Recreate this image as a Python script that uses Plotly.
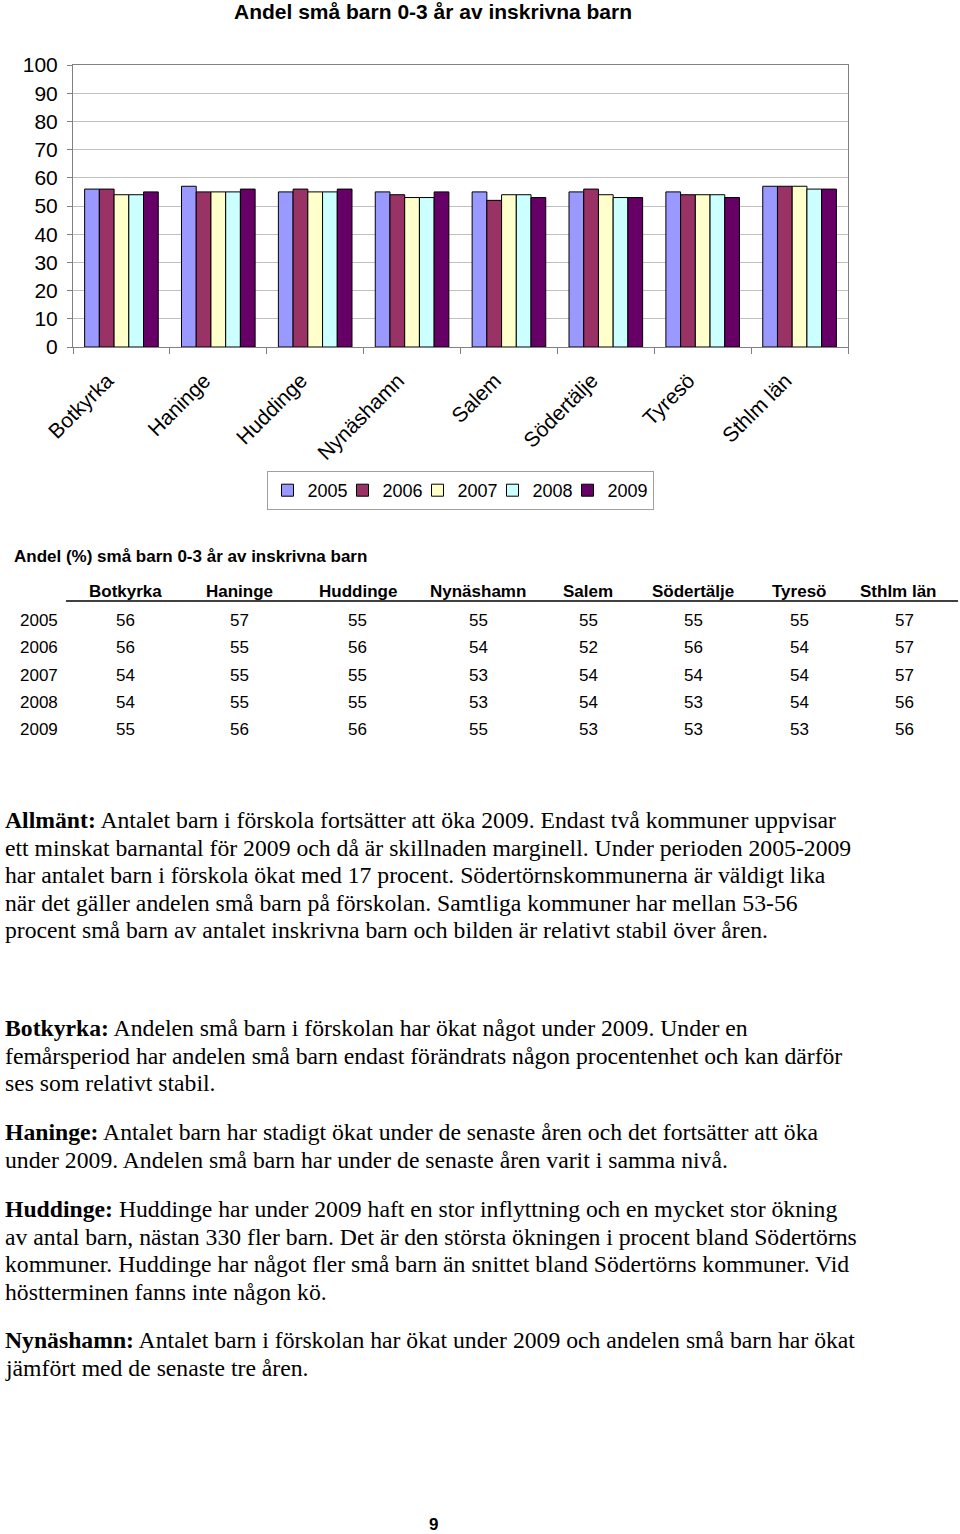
import plotly.graph_objects as go

W, H = 960, 1534

categories = ["Botkyrka", "Haninge", "Huddinge", "Nynäshamn", "Salem", "Södertälje", "Tyresö", "Sthlm län"]
years = ["2005", "2006", "2007", "2008", "2009"]
v2005 = [56, 57, 55, 55, 55, 55, 55, 57]
v2006 = [56, 55, 56, 54, 52, 56, 54, 57]
v2007 = [54, 55, 55, 53, 54, 54, 54, 57]
v2008 = [54, 55, 55, 53, 54, 53, 54, 56]
v2009 = [55, 56, 56, 55, 53, 53, 53, 56]
series = [v2005, v2006, v2007, v2008, v2009]
colors = ["#9999FF", "#993366", "#FFFFCC", "#CCFFFF", "#660066"]

chart_title = "Andel små barn 0-3 år av inskrivna barn"
table_title = "Andel (%) små barn 0-3 år av inskrivna barn"

paragraphs = [
    ("Allmänt:", [
        " Antalet barn i förskola fortsätter att öka 2009. Endast två kommuner uppvisar",
        "ett minskat barnantal för 2009 och då är skillnaden marginell. Under perioden 2005-2009",
        "har antalet barn i förskola ökat med 17 procent. Södertörnskommunerna är väldigt lika",
        "när det gäller andelen små barn på förskolan. Samtliga kommuner har mellan 53-56",
        "procent små barn av antalet inskrivna barn och bilden är relativt stabil över åren.",
    ], 820),
    ("Botkyrka:", [
        " Andelen små barn i förskolan har ökat något under 2009. Under en",
        "femårsperiod har andelen små barn endast förändrats någon procentenhet och kan därför",
        "ses som relativt stabil.",
    ], 1028),
    ("Haninge:", [
        " Antalet barn har stadigt ökat under de senaste åren och det fortsätter att öka",
        "under 2009. Andelen små barn har under de senaste åren varit i samma nivå.",
    ], 1132),
    ("Huddinge:", [
        " Huddinge har under 2009 haft en stor inflyttning och en mycket stor ökning",
        "av antal barn, nästan 330 fler barn. Det är den största ökningen i procent bland Södertörns",
        "kommuner. Huddinge har något fler små barn än snittet bland Södertörns kommuner. Vid",
        "höstterminen fanns inte någon kö.",
    ], 1209),
    ("Nynäshamn:", [
        " Antalet barn i förskolan har ökat under 2009 och andelen små barn har ökat",
        "jämfört med de senaste tre åren.",
    ], 1340),
]
page_number = "9"


def px(x):
    return x / W


def py(y):
    return 1 - y / H


SANS = "Liberation Sans, Arial, sans-serif"
SERIF = "Liberation Serif, Times New Roman, serif"

fig = go.Figure()
for k, (yr, vals, col) in enumerate(zip(years, series, colors)):
    fig.add_trace(go.Bar(
        x=categories, y=vals, name=yr,
        marker=dict(color=col, line=dict(color="#000000", width=1)),
        legendwidth=(40 if k == len(years) - 1 else 30),
    ))

fig.update_layout(
    width=W, height=H,
    margin=dict(l=0, r=0, t=0, b=0, autoexpand=False),
    paper_bgcolor="white", plot_bgcolor="white",
    barmode="group", bargap=0.24, bargroupgap=0,
    font=dict(family=SANS, color="black"),
    showlegend=True,
    legend=dict(
        orientation="h", x=px(460), xanchor="center", y=py(471), yanchor="top",
        bordercolor="#A0A0A0", borderwidth=1, font=dict(size=18, family=SANS),
        itemwidth=30, tracegroupgap=0, entrywidthmode="pixels",
    ),
    xaxis=dict(
        domain=[px(73), px(848)], anchor="y",
        tickson="boundaries", ticks="outside", ticklen=6, tickcolor="#808080",
        tickangle=-45, tickfont=dict(size=21, family=SANS),
        ticklabelshift=-14, ticklabelstandoff=12,
        showline=True, linecolor="#808080", mirror=True, showgrid=False,
    ),
    yaxis=dict(
        domain=[py(347), py(65)], range=[0, 100], dtick=10,
        ticks="outside", ticklen=5, tickcolor="#808080",
        tickfont=dict(size=21, family=SANS), ticklabelstandoff=5,
        showline=True, linecolor="#808080", mirror=True,
        showgrid=True, gridcolor="#C0C0C0", gridwidth=1, zeroline=False,
    ),
)

ann = []
ann.append(dict(text="<b>" + chart_title + "</b>", x=px(433), y=py(11), xanchor="center", yanchor="middle",
                font=dict(size=21, family=SANS)))
ann.append(dict(text="<b>" + table_title + "</b>", x=px(12), y=py(556), xanchor="left", yanchor="middle",
                font=dict(size=17, family=SANS)))

col_x = [125, 239, 357, 478, 588, 693, 799, 904]
head_x = [125, 239, 358, 478, 588, 693, 799, 898]
for c, hx in zip(categories, head_x):
    ann.append(dict(text="<b>" + c + "</b>", x=px(hx), y=py(591), xanchor="center", yanchor="middle",
                    font=dict(size=17, family=SANS)))
row_y = [620, 647, 675, 702, 730]
for yr, vals, ry in zip(years, series, row_y):
    ann.append(dict(text=yr, x=px(18), y=py(ry), xanchor="left", yanchor="middle",
                    font=dict(size=17, family=SANS)))
    for v, cx in zip(vals, col_x):
        ann.append(dict(text=str(v), x=px(cx), y=py(ry), xanchor="center", yanchor="middle",
                        font=dict(size=17, family=SANS)))

line_h = 27.6
for label, lines, y0 in paragraphs:
    for i, ln in enumerate(lines):
        txt = ("<b>" + label + "</b>" + ln) if i == 0 else ln
        ann.append(dict(text=txt, x=px(3), y=py(y0 + i * line_h), xanchor="left", yanchor="middle",
                        font=dict(size=23.7, family=SERIF)))

ann.append(dict(text="<b>" + page_number + "</b>", x=px(433), y=py(1524), xanchor="center", yanchor="middle",
                font=dict(size=17, family=SANS)))

for a in ann:
    a.update(xref="paper", yref="paper", showarrow=False)
fig.update_layout(annotations=ann)

fig.add_shape(type="line", xref="paper", yref="paper", x0=px(66), x1=px(958), y0=py(601), y1=py(601),
              line=dict(color="#000000", width=1.5))

fig.write_html("out.html")
